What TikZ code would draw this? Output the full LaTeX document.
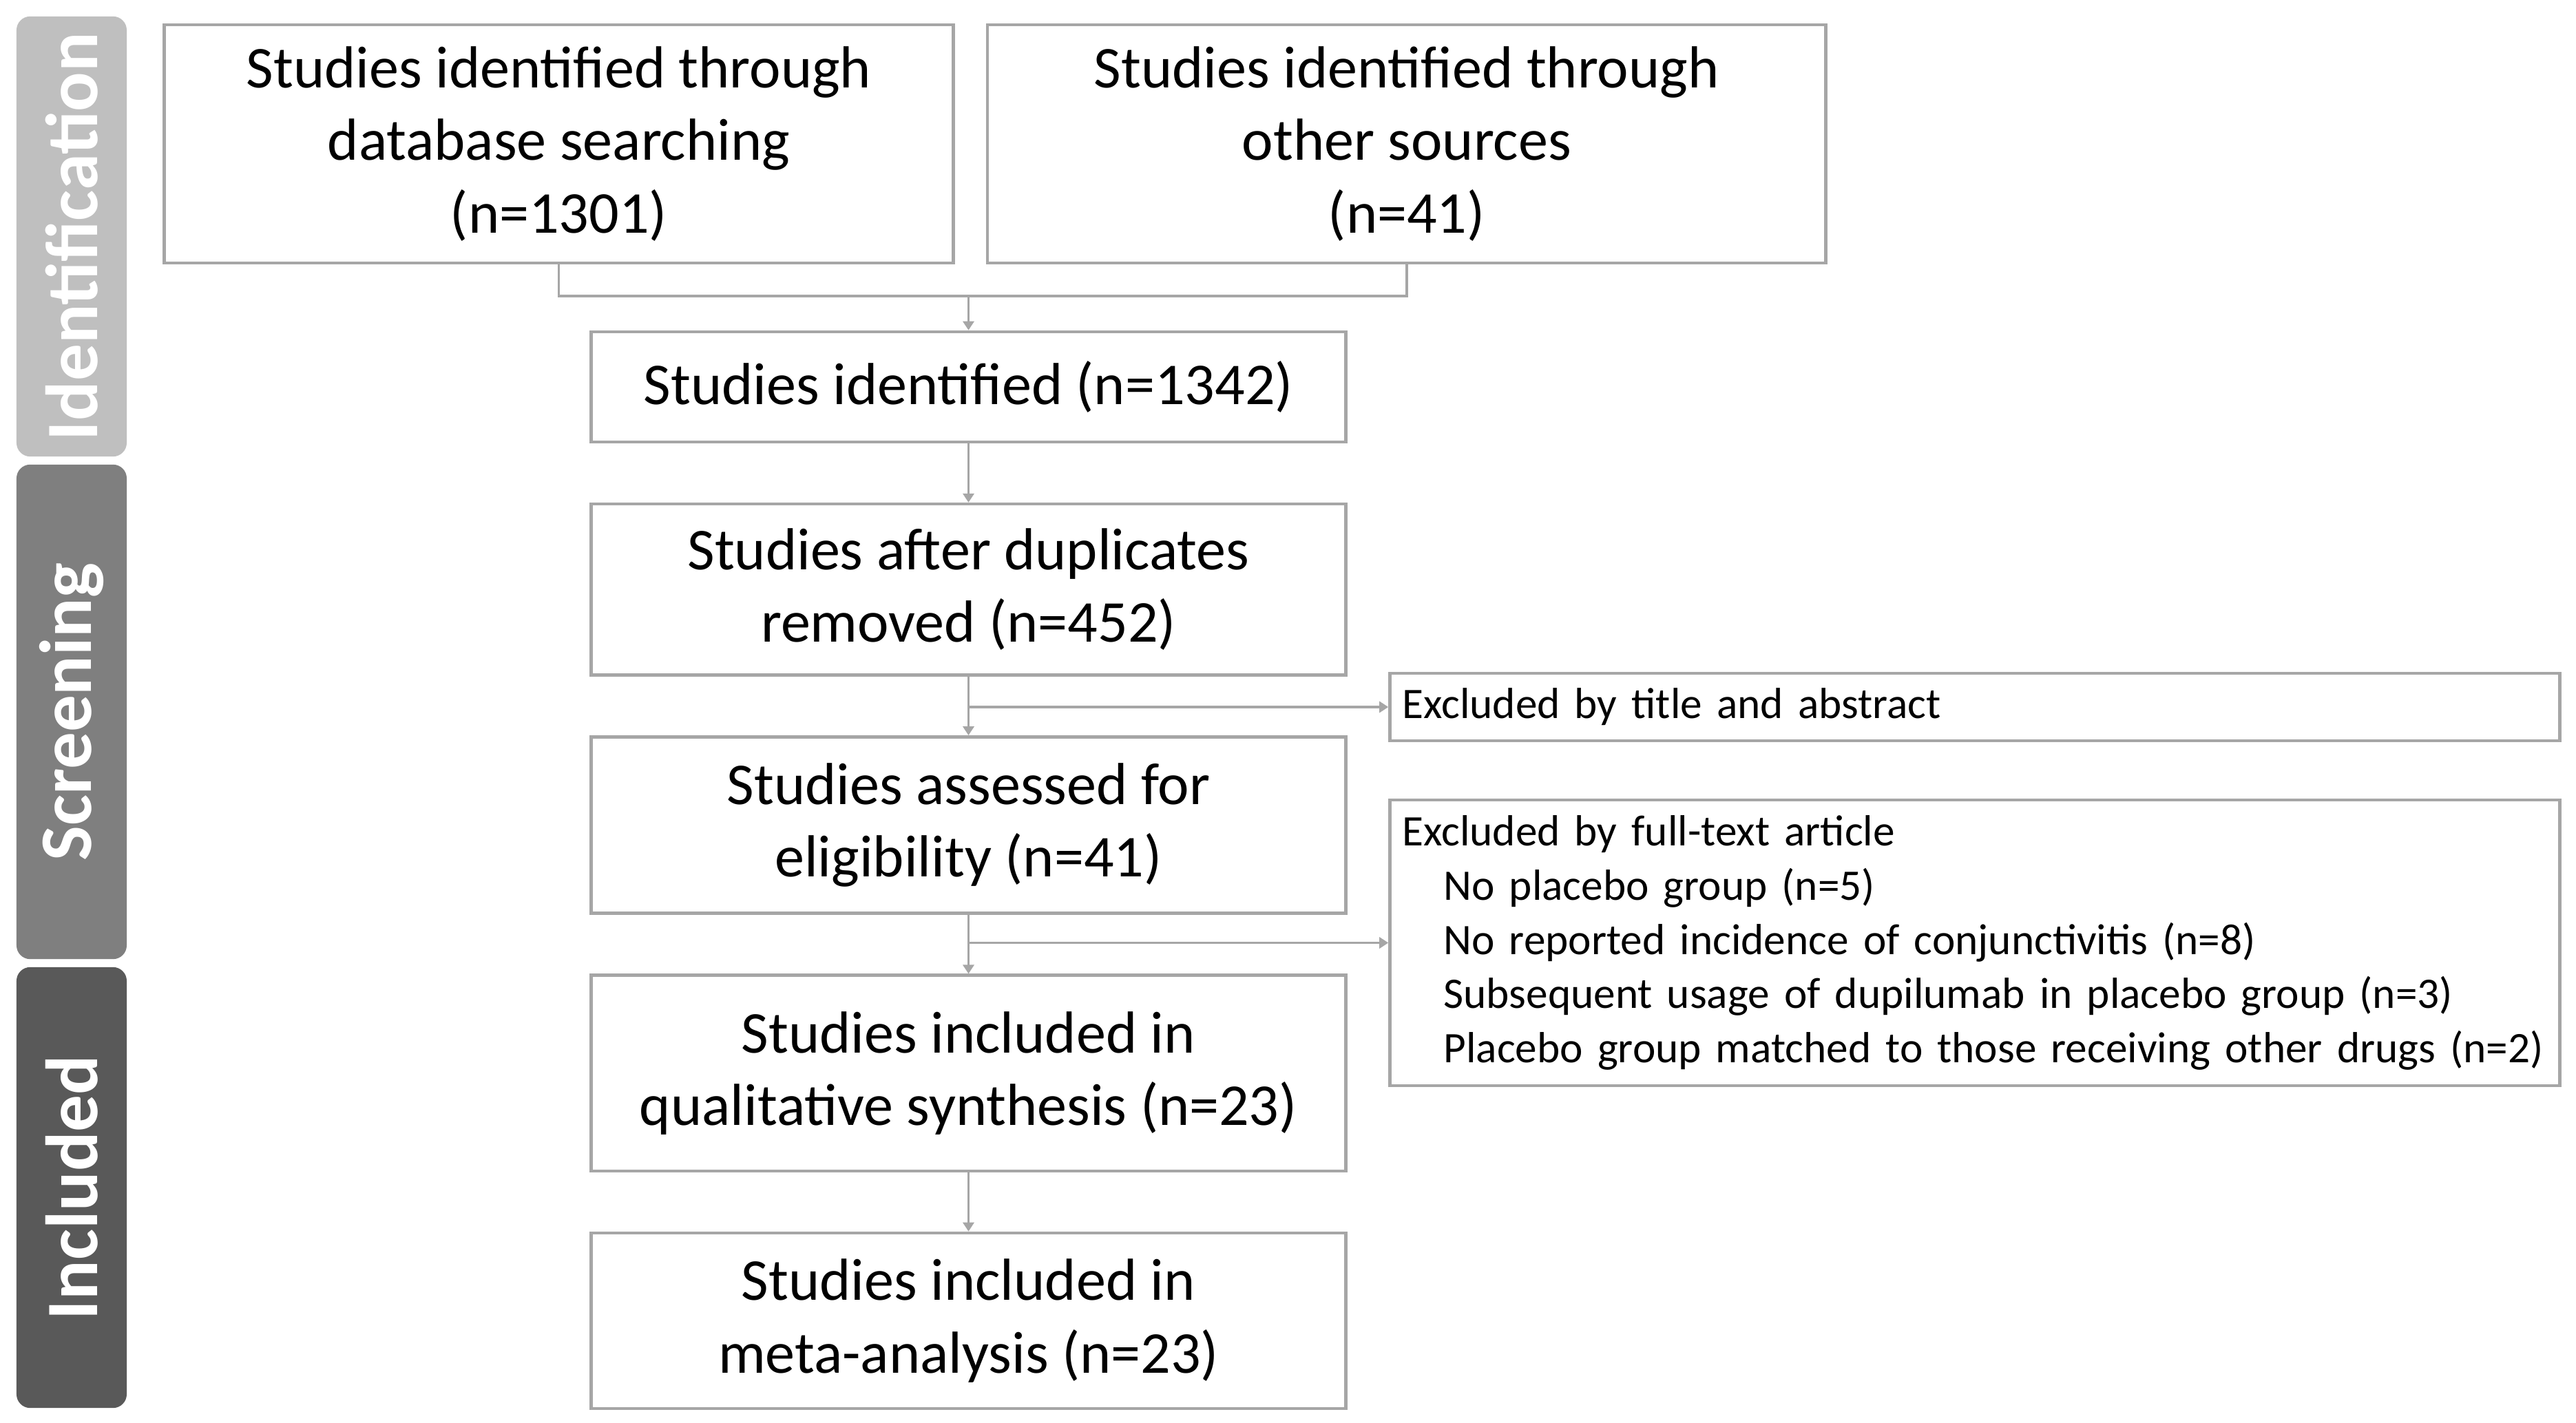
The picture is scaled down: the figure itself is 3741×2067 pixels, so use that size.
\documentclass[tikz,border=0pt]{standalone}
\usepackage{fontspec}
\setmainfont{Carlito}
\usetikzlibrary{arrows.meta}
\usetikzlibrary{positioning}
\usetikzlibrary{calc}

\definecolor{linegray}{RGB}{166,166,166}
\definecolor{identgray}{RGB}{191,191,191}
\definecolor{screengray}{RGB}{127,127,127}
\definecolor{inclgray}{RGB}{89,89,89}

\begin{document}
\begin{tikzpicture}[x=0.01cm, y=-0.01cm,
                node distance=0.855cm,
                box/.style = {shape=rectangle, draw=linegray, line width=1.3pt, inner sep=0pt,
                              align=center, minimum width=10.95cm,
                              font=\fontsize{24.5}{30}\selectfont},
                exclbox/.style = {shape=rectangle, draw=linegray, line width=1.3pt,
                              inner xsep=0.18cm, inner ysep=0pt,
                              align=left, text width=16.62cm,
                              font=\fontsize{18}{22.4}\selectfont},
                stage/.style = {shape=rectangle, rounded corners=0.2cm, rotate=90,
                              minimum height=1.6cm, text=white,
                              font=\fontsize{30.5}{36}\bfseries\selectfont},
                line/.style = {draw=linegray, line width=1.1pt},
                every edge/.style = {line},
                arrow/.style = {-{Triangle[length=0.13cm,width=0.16cm]}}]
            \useasboundingbox (0,0) rectangle (3741,2067);

            % stages
            \node[stage, fill=identgray, minimum width=6.39cm] (s_ident) at (104,343.5) {Identification};
            \node[stage, fill=screengray, minimum width=7.18cm] (s_screen) at (104,1034) {Screening};
            \node[stage, fill=inclgray, minimum width=6.40cm] (s_incl) at (104,1725) {Included};

            \node[box, minimum width=11.45cm, minimum height=3.46cm] (q_db) at (811.5,209)
                {Studies identified through \\ database searching \\ (n=1301)};
            \node[box, minimum width=12.17cm, minimum height=3.46cm, right=0.45cm of q_db] (q_other)
                {Studies identified through \\ other sources \\ (n=41)};

            \node[box, minimum height=1.6cm] (q_ident) at (1406.5,562) {Studies identified (n=1342)};
            \node[box, minimum height=2.48cm, below=of q_ident] (q_dup) {Studies after duplicates \\ removed (n=452)};
            \node[box, minimum height=2.56cm, below=of q_dup] (q_elig) {Studies assessed for \\ eligibility (n=41)};
            \node[box, minimum height=2.84cm, below=of q_elig] (q_qual) {Studies included in \\ qualitative synthesis (n=23)};
            \node[box, minimum height=2.55cm, below=of q_qual] (q_meta) {Studies included in \\ meta-analysis (n=23)};

            \node[exclbox, minimum height=0.98cm] (q_title) at (2868,1027) {Excluded by title and abstract};
            \node[exclbox, minimum height=4.15cm] (q_full) at (2868,1369.5)
                {Excluded by full-text article \\
                 \hspace*{0.6cm}No placebo group (n=5) \\
                 \hspace*{0.6cm}No reported incidence of conjunctivitis (n=8) \\
                 \hspace*{0.6cm}Subsequent usage of dupilumab in placebo group (n=3) \\
                 \hspace*{0.6cm}Placebo group matched to those receiving other drugs (n=2)};

            \coordinate (q_join) at ($(q_ident.north)+(0,-50)$);
            \draw[line] (q_db.south) |- (q_join) -| (q_other.south);

            \path[arrow]
            (q_join)                  edge (q_ident.north)
            (q_ident)                 edge (q_dup)
            (q_dup)                   edge (q_elig)
            (q_elig)                  edge (q_qual)
            (q_qual)                  edge (q_meta)
            (q_dup.south |- q_title)  edge (q_title.west)
            (q_elig.south |- q_full)  edge (q_full.west);
        \end{tikzpicture}
\end{document}
